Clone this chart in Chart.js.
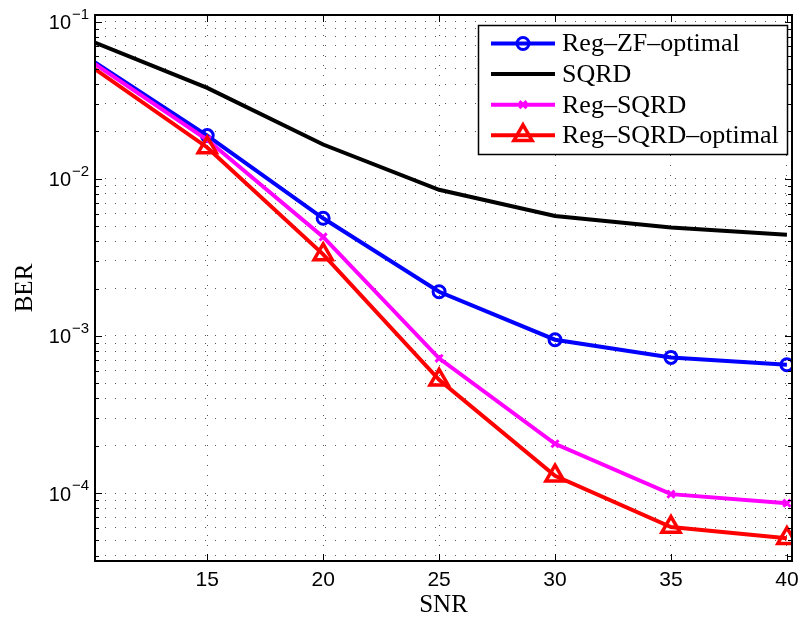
<!DOCTYPE html>
<html>
<head>
<meta charset="utf-8">
<script src="https://cdn.jsdelivr.net/npm/chart.js@4.4.1/dist/chart.umd.min.js"></script>
<style>
  html, body { margin: 0; padding: 0; background: #fff; }
  #wrap { width: 806px; height: 621px; }
</style>
</head>
<body>
<div id="wrap"><canvas id="berChart" width="806" height="621"></canvas></div>
<script>
// Values
const snr = [10, 15, 20, 25, 30, 35, 40];
const regZfOptimal = [0.057, 0.0188, 0.0056, 0.00191, 0.000946, 0.00073, 0.000656];
const sqrd = [0.075, 0.0378, 0.0165, 0.0085, 0.0058, 0.0049, 0.0044];
const regSqrd = [0.0555, 0.0177, 0.00426, 0.00072, 0.000206, 0.0000985, 0.0000863];
const regSqrdOptimal = [0.0517, 0.0158, 0.0033, 0.000526, 0.000129, 0.0000608, 0.0000517];

const seriesNames = ["Reg\u2013ZF\u2013optimal", "SQRD", "Reg\u2013SQRD", "Reg\u2013SQRD\u2013optimal"];
const xTickValues = [15, 20, 25, 30, 35, 40];
const yDecades = [1e-5, 1e-4, 1e-3, 1e-2, 1e-1];
const yMinorSteps = [2, 3, 4, 5, 6, 7, 8, 9];
const xRange = [10.16, 40.22];
const yRange = [3.7e-5, 0.11];

// gridline values for the log axis: decades plus 2..9 in each decade
const yGridValues = yDecades
  .flatMap(d => [d, ...yMinorSteps.map(m => m * d)])
  .filter(v => v >= yRange[0] && v <= yRange[1]);
const isDecade = v => Math.abs(Math.log10(v) - Math.round(Math.log10(v))) < 1e-9;

// Helpers
const SANS = "'Liberation Sans', Arial, sans-serif";
const SERIF = "'Liberation Serif', 'Times New Roman', serif";
const markerWidth = { circle: 3, crossRot: 3, triangle: 3.5 };

const makeSeries = (label, data, color, style, radius, order) => ({
  label, data, order,
  borderColor: color,
  backgroundColor: "transparent",
  borderWidth: 4,
  pointStyle: style,
  pointBorderColor: color,
  pointBackgroundColor: "transparent",
  pointBorderWidth: style ? markerWidth[style] : 0,
  pointRadius: ctx => (!style || (ctx.parsed && ctx.parsed.x < xRange[0])) ? 0 : radius,
  tension: 0,
  clip: 0
});

// Box, inward ticks, y labels with superscripts, legend
const matlabAxes = {
  id: "matlabAxes",
  afterDraw(chart) {
    const ctx = chart.ctx;
    const a = chart.chartArea;
    const xs = chart.scales.x, ys = chart.scales.y;
    ctx.save();
    ctx.strokeStyle = "#000";
    ctx.lineWidth = 1;

    // inward ticks
    ctx.beginPath();
    xs.ticks.forEach(t => {
      const px = Math.round(xs.getPixelForValue(t.value)) + 0.5;
      ctx.moveTo(px, a.bottom); ctx.lineTo(px, a.bottom - 7);
      ctx.moveTo(px, a.top); ctx.lineTo(px, a.top + 7);
    });
    ys.ticks.forEach(t => {
      const py = Math.round(ys.getPixelForValue(t.value)) + 0.5;
      const len = isDecade(t.value) ? 7 : 4;
      ctx.moveTo(a.left, py); ctx.lineTo(a.left + len, py);
      ctx.moveTo(a.right, py); ctx.lineTo(a.right - len, py);
    });
    ctx.stroke();

    // axes box
    ctx.lineWidth = 2;
    ctx.strokeRect(a.left, a.top, a.right - a.left, a.bottom - a.top);

    // y tick labels 10^n
    ctx.fillStyle = "#000";
    ys.ticks.filter(t => isDecade(t.value)).forEach(t => {
      const py = ys.getPixelForValue(t.value);
      const exp = Math.round(Math.log10(t.value));
      ctx.font = "20px " + SANS;
      ctx.textAlign = "right";
      ctx.textBaseline = "middle";
      ctx.fillText("10", 71, py + 2);
      ctx.font = "15px " + SANS;
      ctx.textAlign = "left";
      ctx.fillText("\u2212" + Math.abs(exp), 72, py - 7);
    });

    // legend
    const box = { x: 478.5, y: 25.5, w: 309, h: 129 };
    ctx.fillStyle = "#fff";
    ctx.fillRect(box.x, box.y, box.w, box.h);
    ctx.lineWidth = 1.5;
    ctx.strokeStyle = "#000";
    ctx.strokeRect(box.x, box.y, box.w, box.h);
    chart.data.datasets.forEach((ds, i) => {
      const cy = 43.5 + i * 30.6;
      ctx.strokeStyle = ds.borderColor;
      ctx.lineWidth = ds.borderWidth;
      ctx.beginPath();
      ctx.moveTo(491, cy); ctx.lineTo(555, cy);
      ctx.stroke();
      if (ds.pointStyle) {
        ctx.fillStyle = "rgba(0,0,0,0)";
        ctx.lineWidth = ds.pointBorderWidth;
        Chart.helpers.drawPoint(ctx, {
          pointStyle: ds.pointStyle,
          radius: ds.pointStyle === "circle" ? 6 : (ds.pointStyle === "triangle" ? 10.5 : 5),
          borderWidth: ds.pointBorderWidth,
          rotation: 0
        }, 523, cy);
      }
      ctx.fillStyle = "#000";
      ctx.font = "26px " + SERIF;
      ctx.textAlign = "left";
      ctx.textBaseline = "middle";
      ctx.fillText(ds.label, 562, cy + 1);
    });
    ctx.restore();
  }
};

new Chart(document.getElementById("berChart").getContext("2d"), {
  type: "line",
  data: {
    datasets: [
      makeSeries(seriesNames[0], snr.map((x, i) => ({ x, y: regZfOptimal[i] })), "#0000ff", "circle", 6, 4),
      makeSeries(seriesNames[1], snr.map((x, i) => ({ x, y: sqrd[i] })), "#000000", false, 0, 3),
      makeSeries(seriesNames[2], snr.map((x, i) => ({ x, y: regSqrd[i] })), "#ff00ff", "crossRot", 5, 2),
      makeSeries(seriesNames[3], snr.map((x, i) => ({ x, y: regSqrdOptimal[i] })), "#ff0000", "triangle", 10.5, 1)
    ]
  },
  options: {
    responsive: false,
    animation: false,
    devicePixelRatio: 1,
    layout: { padding: { left: 0, right: 9, top: 15, bottom: 0 } },
    plugins: { legend: { display: false }, tooltip: { enabled: false } },
    scales: {
      x: {
        type: "linear",
        min: xRange[0],
        max: xRange[1],
        afterBuildTicks: s => { s.ticks = xTickValues.map(v => ({ value: v })); },
        afterFit: s => { s.height = 60; s.paddingLeft = 0; s.paddingRight = 0; },
        ticks: {
          autoSkip: false, maxRotation: 0, padding: 7, color: "#000",
          font: { family: SANS, size: 21 }
        },
        grid: { color: "#555", lineWidth: 1, drawTicks: false },
        border: { display: false, dash: [1, 9] },
        title: {
          display: true, text: "SNR", color: "#000",
          font: { family: SERIF, size: 25 }, padding: { top: 0, bottom: 1 }
        }
      },
      y: {
        type: "logarithmic",
        min: yRange[0],
        max: yRange[1],
        afterBuildTicks: s => { s.ticks = yGridValues.map(v => ({ value: v, major: isDecade(v) })); },
        afterFit: s => { s.width = 95; s.paddingTop = 0; s.paddingBottom = 0; },
        ticks: { display: false },
        grid: { color: "#555", lineWidth: 1, drawTicks: false },
        border: { display: false, dash: [1, 9] },
        title: {
          display: true, text: "BER", color: "#000",
          font: { family: SERIF, size: 25 }, padding: { top: 10, bottom: 0 }
        }
      }
    }
  },
  plugins: [matlabAxes]
});
</script>
</body>
</html>
